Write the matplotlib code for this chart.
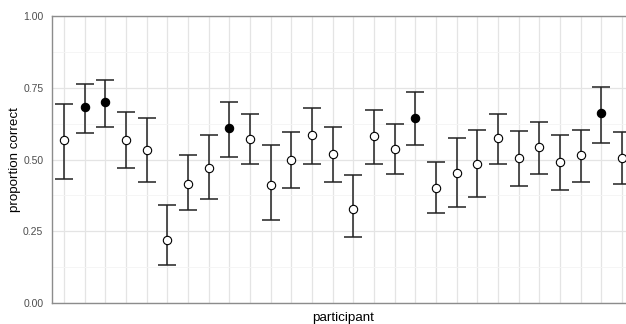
"""Proportion correct per participant with confidence intervals."""
import numpy as np
import matplotlib
matplotlib.use("Agg")
import matplotlib.pyplot as plt
from matplotlib.ticker import MultipleLocator

plt.rcParams['font.family'] = ['Liberation Sans', 'DejaVu Sans']

participants = list(range(1, 29))
prop = [0.568, 0.683, 0.701, 0.568, 0.532, 0.220, 0.416, 0.472, 0.610, 0.573,
        0.412, 0.500, 0.585, 0.520, 0.328, 0.581, 0.538, 0.645, 0.399, 0.452,
        0.485, 0.575, 0.505, 0.543, 0.490, 0.514, 0.662, 0.505]
upper = [0.695, 0.762, 0.777, 0.665, 0.643, 0.341, 0.516, 0.585, 0.702, 0.658,
         0.549, 0.597, 0.679, 0.613, 0.445, 0.671, 0.625, 0.734, 0.490, 0.575,
         0.603, 0.659, 0.601, 0.632, 0.587, 0.604, 0.754, 0.597]
lower = [0.433, 0.594, 0.613, 0.469, 0.422, 0.133, 0.324, 0.362, 0.507, 0.483,
         0.288, 0.401, 0.484, 0.423, 0.230, 0.485, 0.449, 0.549, 0.312, 0.334,
         0.368, 0.486, 0.408, 0.448, 0.392, 0.422, 0.556, 0.413]
significant = [False, True, True, False, False, False, False, False, True, False,
               False, False, False, False, False, False, False, True, False, False,
               False, False, False, False, False, False, True, False]

x = np.arange(len(participants))
p = np.array(prop); lo = np.array(lower); hi = np.array(upper); sig = np.array(significant)

W, H = 626, 324
fig = plt.figure(figsize=(W/100, H/100), dpi=100)
# panel runs past the right edge of the figure, as in the reference crop
ax = fig.add_axes([51.7/W, (H-303)/H, (634.3-51.7)/W, (303-16)/H])

ax.errorbar(x, p, yerr=[p-lo, hi-p], fmt='none', ecolor='#222222', elinewidth=1.1,
            capsize=6.5, capthick=1.1, zorder=3)
ax.plot(x[~sig], p[~sig], 'o', ms=6, mfc='white', mec='black', mew=0.8, zorder=4)
ax.plot(x[sig], p[sig], 'o', ms=6, mfc='black', mec='black', mew=0.8, zorder=4)

ax.set_xlim(-0.6, len(x) - 0.4)
ax.set_ylim(0, 1)
ax.set_xticks(x)
ax.set_xticklabels([])
ax.yaxis.set_major_locator(MultipleLocator(0.25))
ax.yaxis.set_minor_locator(MultipleLocator(0.125))
ax.set_yticklabels([f'{v:.2f}' for v in ax.get_yticks()])
ax.tick_params(axis='both', which='both', length=0, pad=6, labelsize=7.5, labelcolor='#4d4d4d')
ax.grid(True, which='major', color='#e4e4e4', lw=0.9)
ax.grid(True, which='minor', axis='y', color='#f4f4f4', lw=0.6)
ax.set_axisbelow(True)
for s in ax.spines.values():
    s.set_color('#8c8c8c'); s.set_linewidth(1.0)

ax.set_xlabel('participant', fontsize=9.6)
ax.set_ylabel('proportion correct', fontsize=9.6)
ax.xaxis.set_label_coords(0.5, -9/287)
ax.yaxis.set_label_coords(-31/582.6, 0.5)

fig.savefig('out.png', dpi=100)
